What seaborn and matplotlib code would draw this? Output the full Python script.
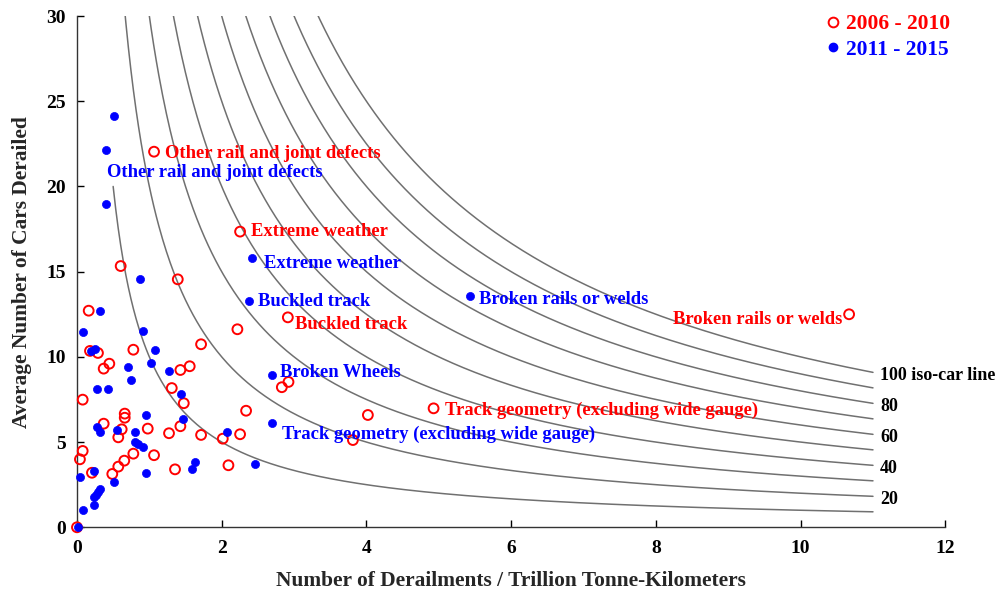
import numpy as np
import pandas as pd
import matplotlib
matplotlib.use("Agg")
import matplotlib.pyplot as plt
import seaborn as sns
from matplotlib.lines import Line2D

sns.set_style("ticks")
plt.rcParams["font.family"] = ["Liberation Serif", "DejaVu Serif"]
plt.rcParams["font.weight"] = "bold"
plt.rcParams["axes.labelweight"] = "bold"

# ---------------- data ----------------
# 2006 - 2010 (open red circles)
x_2006 = [1.065, 2.254, 0.604, 1.393, 0.162, 2.914, 10.67, 2.217, 1.715, 0.779,
          0.18, 0.29, 0.447, 1.558, 0.369, 1.429, 2.923, 2.831, 1.31, 0.079,
          1.476, 4.928, 2.337, 0.66, 4.02, 0.66, 0.369, 1.429, 0.978, 0.618,
          1.272, 2.254, 1.715, 0.571, 2.015, 3.813, 0.079, 0.779, 1.065, 0.041,
          0.654, 2.093, 0.571, 1.355, 0.207, 0.488, 0.0]
y_2006 = [22.04, 17.35, 15.33, 14.55, 12.71, 12.32, 12.50, 11.62, 10.74, 10.42,
          10.35, 10.23, 9.60, 9.45, 9.31, 9.23, 8.53, 8.22, 8.17, 7.49,
          7.28, 6.98, 6.84, 6.67, 6.59, 6.43, 6.08, 5.93, 5.79, 5.75,
          5.52, 5.46, 5.42, 5.28, 5.20, 5.12, 4.48, 4.32, 4.23, 3.99,
          3.91, 3.64, 3.56, 3.40, 3.20, 3.13, 0.0]

# 2011 - 2015 (filled blue circles)
x_2011 = [0.516, 0.397, 0.397, 0.867, 0.314, 0.079, 0.908, 1.075, 0.245, 0.20,
          1.028, 0.710, 0.747, 1.268, 0.277, 0.433, 1.434, 0.954, 1.470, 0.272,
          0.318, 0.553, 0.798, 0.798, 0.848, 0.913, 0.235, 0.041, 0.954, 0.516,
          1.628, 1.586, 0.318, 0.295, 0.263, 0.235, 0.235, 0.079, 0.02, 2.07,
          2.466, 2.70, 2.379, 2.70, 2.416, 5.436]
y_2011 = [24.14, 22.14, 18.97, 14.57, 12.71, 11.48, 11.54, 10.40, 10.46, 10.36,
          9.66, 9.41, 8.66, 9.19, 8.13, 8.13, 7.80, 6.57, 6.34, 5.87,
          5.59, 5.69, 5.57, 5.00, 4.87, 4.73, 3.30, 2.97, 3.20, 2.66,
          3.85, 3.40, 2.25, 2.09, 1.90, 1.76, 1.29, 1.00, 0.0, 5.57,
          3.71, 6.10, 13.28, 8.92, 15.80, 13.59]

# labelled causes: (text, index of point in series)
labels_2006 = [("Other rail and joint defects", 0), ("Extreme weather", 1),
               ("Buckled track", 5), ("Broken rails or welds", 6),
               ("Track geometry (excluding wide gauge)", 21)]
labels_2011 = [("Other rail and joint defects", 1), ("Extreme weather", 44),
               ("Buckled track", 42), ("Broken rails or welds", 45),
               ("Broken Wheels", 43), ("Track geometry (excluding wide gauge)", 41)]

iso_levels = [10, 20, 30, 40, 50, 60, 70, 80, 90, 100]
iso_text = {20: "20", 40: "40", 60: "60", 80: "80", 100: "100 iso-car line"}

x_ticks = [0, 2, 4, 6, 8, 10, 12]
y_ticks = [0, 5, 10, 15, 20, 25, 30]

RED = "#ff0000"
BLUE = "#0000ff"

# ---------------- figure ----------------
fig = plt.figure(figsize=(9.97, 5.94), dpi=100)
ax = fig.add_axes([0.0772, 0.1123, 0.871, 0.8607])

xs = np.linspace(0.5, 11, 600)
curves = pd.DataFrame([(k, x, k / x) for k in iso_levels for x in xs],
                      columns=["k", "x", "y"])
for k in iso_levels:
    d = curves[curves.k == k]
    sns.lineplot(data=d, x="x", y="y", ax=ax, color="#707070", lw=1.1,
                 sort=False, estimator=None, legend=False)
    if k in iso_text:
        ax.text(11.1, k / 11 - 0.2, iso_text[k], ha="left", va="center",
                fontsize=13, fontweight="bold", color="black", clip_on=False)

df06 = pd.DataFrame({"x": x_2006, "y": y_2006})
df11 = pd.DataFrame({"x": x_2011, "y": y_2011})
sns.scatterplot(data=df06, x="x", y="y", ax=ax, marker="o", s=50,
                fc="none", ec=RED, linewidth=1.4, clip_on=False, zorder=3)
sns.scatterplot(data=df11, x="x", y="y", ax=ax, marker="o", s=34,
                color=BLUE, ec=BLUE, linewidth=0.5, clip_on=False, zorder=4)

off06 = {0: (11, -2, "left"), 1: (11, 0, "left"), 5: (7, -7, "left"),
         6: (-7, -5, "right"), 21: (11, -2, "left")}
off11 = {1: (1, -23, "left"), 44: (12, -5, "left"), 42: (9, -1, "left"),
         45: (9, -4, "left"), 43: (8, 3, "left"), 41: (10, -11, "left")}
for txt, i in labels_2006:
    dx, dy, ha = off06[i]
    ax.annotate(txt, (x_2006[i], y_2006[i]), xytext=(dx, dy),
                textcoords="offset pixels", ha=ha, va="center",
                fontsize=13.4, fontweight="bold", color=RED)
for txt, i in labels_2011:
    dx, dy, ha = off11[i]
    ax.annotate(txt, (x_2011[i], y_2011[i]), xytext=(dx, dy),
                textcoords="offset pixels", ha=ha, va="center",
                fontsize=13.4, fontweight="bold", color=BLUE)

ax.set_xlim(0, 12)
ax.set_ylim(0, 30)
ax.set_xticks(x_ticks)
ax.set_yticks(y_ticks)
ax.tick_params(direction="in", length=5, width=1, labelsize=14, colors="black")
ax.tick_params(axis="x", pad=9)
ax.tick_params(axis="y", pad=8)
for lab in ax.get_xticklabels() + ax.get_yticklabels():
    lab.set_fontweight("bold")
sns.despine(ax=ax)
for s in ["left", "bottom"]:
    ax.spines[s].set_color("#333333")
    ax.spines[s].set_linewidth(1.0)

ax.set_xlabel("Number of Derailments / Trillion Tonne-Kilometers",
              fontsize=15.4, fontweight="bold", labelpad=10)
ax.set_ylabel("Average Number of Cars Derailed",
              fontsize=15.4, fontweight="bold", labelpad=10)

handles = [Line2D([], [], ls="none", marker="o", ms=7, mfc="none", mec=RED, mew=1.4),
           Line2D([], [], ls="none", marker="o", ms=6, mfc=BLUE, mec=BLUE)]
leg = ax.legend(handles, ["2006 - 2010", "2011 - 2015"], loc="upper right",
                bbox_to_anchor=(0.972, 1.009), bbox_transform=fig.transFigure,
                frameon=False, handletextpad=0.1, handlelength=1.0,
                labelspacing=0.25, prop={"size": 15.5, "weight": "bold"})
for t, c in zip(leg.get_texts(), [RED, BLUE]):
    t.set_color(c)

fig.savefig("out.png", dpi=100)
